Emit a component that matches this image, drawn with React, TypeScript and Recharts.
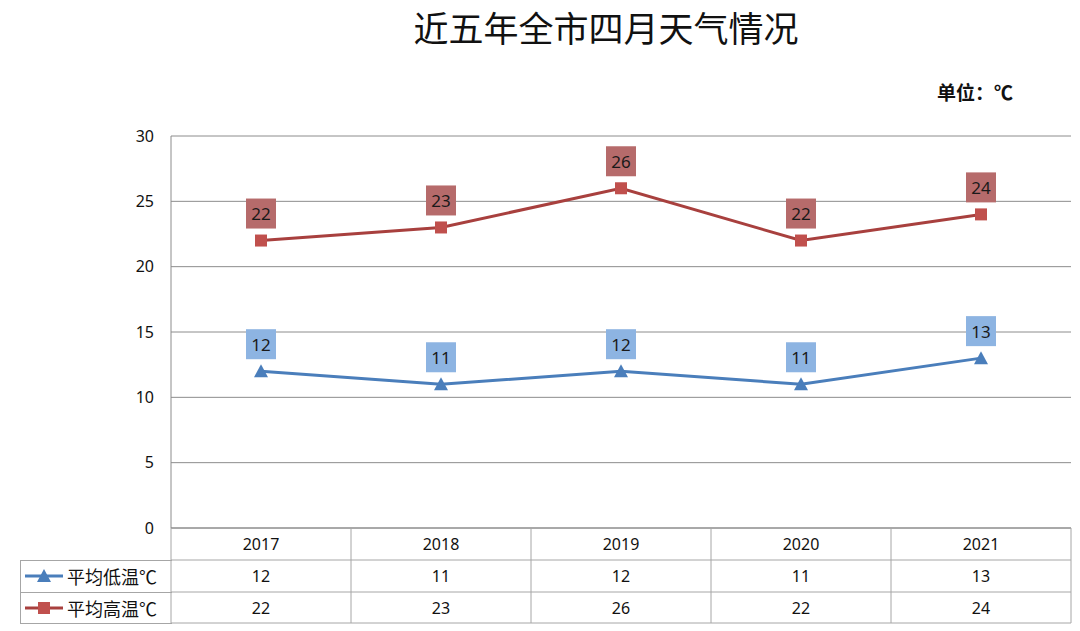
import React from "react";
import { LineChart, Line, XAxis, YAxis, CartesianGrid, LabelList } from "recharts";

const years = ["2017", "2018", "2019", "2020", "2021"];
const avgLow = [12, 11, 12, 11, 13];
const avgHigh = [22, 23, 26, 22, 24];
const yTicks = [0, 5, 10, 15, 20, 25, 30];
const seriesNames = ["平均低温℃", "平均高温℃"];

const data = years.map((year, i) => ({ year, low: avgLow[i], high: avgHigh[i] }));

const BAND = 180;
const GRID = "#8c8c8c";
const TABLE_LINE = "#a6a6a6";
const FONT = "'Noto Sans', 'Noto Sans CJK SC', sans-serif";
const CJK = "'Noto Sans CJK SC', sans-serif";
const BLUE = "#4a7ebb";
const RED = "#c0504d";
const RED_LINE = "#a8403e";

// years header + value rows under the plot, one column per category
function TableTick(props: any) {
  const { x, y, index } = props;
  const half = BAND / 2;
  const rows = [y + 32, y + 64, y + 95];
  return (
    <g>
      <text x={x} y={y + 16} textAnchor="middle" dominantBaseline="central" fontSize={16} fill="#111">
        {years[index]}
      </text>
      <text x={x} y={y + 48} textAnchor="middle" dominantBaseline="central" fontSize={16} fill="#111">
        {avgLow[index]}
      </text>
      <text x={x} y={y + 79.5} textAnchor="middle" dominantBaseline="central" fontSize={16} fill="#111">
        {avgHigh[index]}
      </text>
      {rows.map((ry) => (
        <line key={ry} x1={x - half} x2={x + half} y1={ry} y2={ry} stroke={TABLE_LINE} />
      ))}
      <line x1={x + half} x2={x + half} y1={y} y2={y + 95} stroke={TABLE_LINE} />
      {index === 0 && <line x1={x - half} x2={x - half} y1={y} y2={y + 95} stroke={TABLE_LINE} />}
    </g>
  );
}

function TriangleDot(props: any) {
  const { cx, cy, index } = props;
  return <polygon key={index} points={`${cx},${cy - 7} ${cx - 7},${cy + 6} ${cx + 7},${cy + 6}`} fill={BLUE} />;
}

function SquareDot(props: any) {
  const { cx, cy, index } = props;
  return <rect key={index} x={cx - 6} y={cy - 6} width={12} height={12} fill={RED} />;
}

function boxLabel(bg: string) {
  return (props: any) => {
    const { x, y, value } = props;
    return (
      <g>
        <rect x={x - 15} y={y - 42} width={30} height={30} fill={bg} />
        <text x={x} y={y - 27} textAnchor="middle" dominantBaseline="central" fontSize={17} fill="#1a1a1a">
          {value}
        </text>
      </g>
    );
  };
}

function LegendCell() {
  return (
    <svg width={152} height={64} style={{ display: "block", fontFamily: CJK }}>
      <line x1={0.5} x2={0.5} y1={0} y2={64} stroke={TABLE_LINE} />
      <line x1={0} x2={152} y1={0.5} y2={0.5} stroke={TABLE_LINE} />
      <line x1={0} x2={152} y1={32.5} y2={32.5} stroke={TABLE_LINE} />
      <line x1={0} x2={152} y1={63.5} y2={63.5} stroke={TABLE_LINE} />
      <line x1={5} x2={43} y1={16} y2={16} stroke={BLUE} strokeWidth={3} />
      <polygon points="24,9 17,22 31,22" fill={BLUE} />
      <text x={47} y={16} dominantBaseline="central" fontSize={18} fill="#111">
        {seriesNames[0]}
      </text>
      <line x1={5} x2={43} y1={48} y2={48} stroke={RED_LINE} strokeWidth={3} />
      <rect x={18} y={42} width={12} height={12} fill={RED} />
      <text x={47} y={48} dominantBaseline="central" fontSize={18} fill="#111">
        {seriesNames[1]}
      </text>
    </svg>
  );
}

export default function App() {
  return (
    <div style={{ position: "absolute", left: 0, top: 0, width: 1080, height: 631, background: "#fff", fontFamily: FONT }}>
      <div
        style={{
          position: "absolute",
          left: 606,
          top: 0,
          transform: "translateX(-50%)",
          whiteSpace: "nowrap",
          fontSize: 35,
          lineHeight: "54px",
          fontFamily: CJK,
          color: "#111",
        }}
      >
        近五年全市四月天气情况
      </div>
      <div
        style={{
          position: "absolute",
          left: 937,
          top: 78,
          whiteSpace: "nowrap",
          fontSize: 19,
          lineHeight: "28px",
          fontWeight: "bold",
          fontFamily: CJK,
          color: "#111",
        }}
      >
        单位：℃
      </div>
      <div style={{ position: "absolute", left: 20, top: 560, width: 152, height: 64, zIndex: 1 }}>
        <LegendCell />
      </div>
      <LineChart width={1080} height={631} data={data} margin={{ top: 136, right: 9, bottom: 0, left: 131 }}>
        <CartesianGrid vertical={false} stroke={GRID} />
        <XAxis
          dataKey="year"
          height={103}
          padding={{ left: BAND / 2, right: BAND / 2 }}
          tickLine={false}
          tickSize={0}
          tickMargin={0}
          interval={0}
          axisLine={{ stroke: GRID }}
          tick={<TableTick />}
        />
        <YAxis
          width={40}
          domain={[0, 30]}
          ticks={yTicks}
          tickLine={false}
          tickSize={0}
          tickMargin={17}
          axisLine={{ stroke: GRID }}
          tick={{ fill: "#111", fontSize: 16 }}
        />
        <Line
          type="linear"
          dataKey="low"
          name={seriesNames[0]}
          stroke={BLUE}
          strokeWidth={3}
          dot={<TriangleDot />}
          isAnimationActive={false}
        >
          <LabelList dataKey="low" content={boxLabel("#8db4e2")} />
        </Line>
        <Line
          type="linear"
          dataKey="high"
          name={seriesNames[1]}
          stroke={RED_LINE}
          strokeWidth={3}
          dot={<SquareDot />}
          isAnimationActive={false}
        >
          <LabelList dataKey="high" content={boxLabel("#b66b6b")} />
        </Line>
      </LineChart>
    </div>
  );
}
